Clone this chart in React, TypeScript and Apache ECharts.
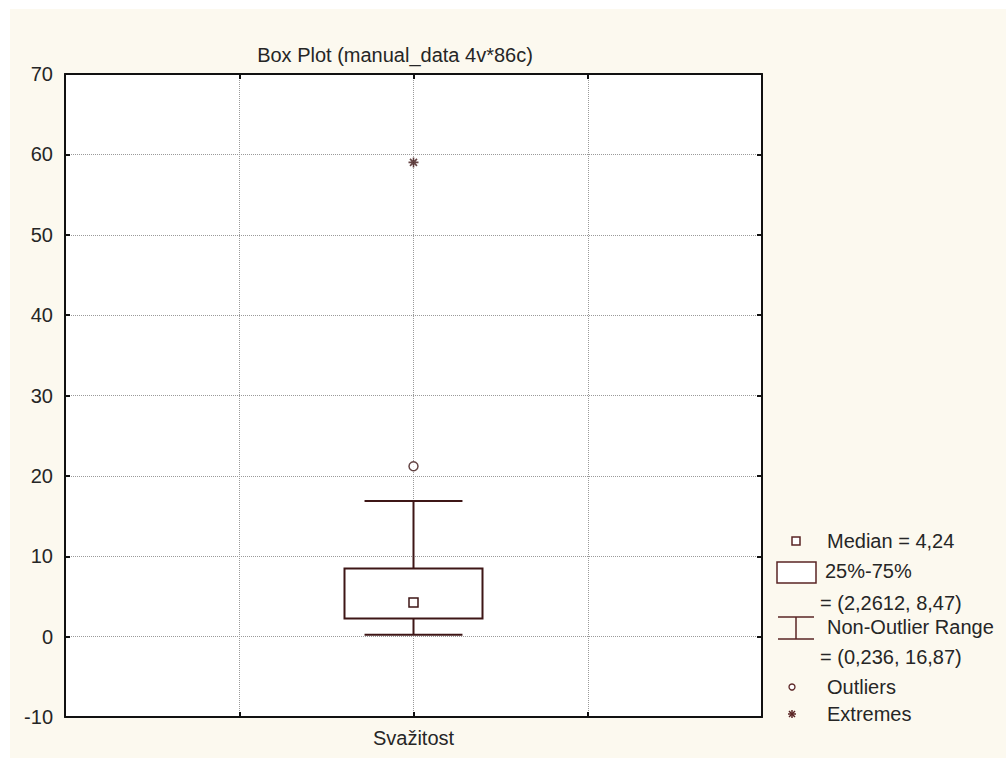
import React, { useEffect, useRef } from "react";
import * as echarts from "echarts";

// Box plot statistics for each variable
const categories = ["Svažitost"];
const medians = [4.24];
const quartile25 = [2.2612];
const quartile75 = [8.47];
const rangeLow = [0.236];
const rangeHigh = [16.87];
const outliers = [21.2];
const extremes = [59.0];
const yTicks = [-10, 0, 10, 20, 30, 40, 50, 60, 70];
const titleText = "Box Plot (manual_data 4v*86c)";

const FONT = '"Liberation Sans", Arial, sans-serif';
const INK = "#262626";
const BOX = "#3e1616";
const LEG = "#5a2424";

const fmt = (v: number) => String(v).replace(".", ",");

// variable i sits at the middle of a 0..4 value axis
const xOf = (i: number) => 2 + i;

export default function App() {
  const ref = useRef<HTMLDivElement>(null);

  useEffect(() => {
    if (!ref.current) return;
    const chart = echarts.init(ref.current, undefined, { renderer: "svg" });

    const boxData = categories.map((_, i) => [
      xOf(i),
      rangeLow[i],
      quartile25[i],
      medians[i],
      quartile75[i],
      rangeHigh[i],
    ]);

    const asterisk =
      "path://M0,5L10,5M5,0L5,10M1.5,1.5L8.5,8.5M8.5,1.5L1.5,8.5";

    const axisLine = { show: true, onZero: false, lineStyle: { color: "#111", width: 2 } };
    const axisTick = {
      show: true,
      inside: true,
      length: 5,
      lineStyle: { color: "#111", width: 2 },
    };
    const grid = { show: true, lineStyle: { type: "dotted", color: "#9a9a9a", width: 1 } };

    const legendLine = (x1: number, y1: number, x2: number, y2: number) => ({
      type: "line",
      shape: { x1, y1, x2, y2 },
      style: { stroke: LEG, lineWidth: 1.5 },
    });
    const legendText = (x: number, y: number, text: string) => ({
      type: "text",
      x,
      y,
      style: {
        text,
        fill: INK,
        font: `20px ${FONT}`,
        textAlign: "left",
        textVerticalAlign: "middle",
      },
    });

    chart.setOption({
      animation: false,
      grid: {
        left: 65,
        right: 244,
        top: 74,
        bottom: 41,
        show: true,
        backgroundColor: "#ffffff",
        borderWidth: 0,
      },
      xAxis: [
        {
          type: "value",
          min: 0,
          max: 4,
          interval: 1,
          position: "bottom",
          axisLine,
          axisTick,
          axisLabel: {
            formatter: (v: number) => categories[v - 2] ?? "",
            fontSize: 20,
            fontFamily: FONT,
            color: INK,
            margin: 11,
          },
          splitLine: grid,
        },
        {
          type: "value",
          min: 0,
          max: 4,
          interval: 1,
          position: "top",
          axisLine,
          axisTick,
          axisLabel: { show: false },
          splitLine: { show: false },
        },
      ],
      yAxis: [
        {
          type: "value",
          min: yTicks[0],
          max: yTicks[yTicks.length - 1],
          interval: yTicks[1] - yTicks[0],
          position: "left",
          axisLine,
          axisTick,
          axisLabel: { fontSize: 20, fontFamily: FONT, color: INK, margin: 12 },
          splitLine: grid,
        },
        {
          type: "value",
          min: yTicks[0],
          max: yTicks[yTicks.length - 1],
          interval: yTicks[1] - yTicks[0],
          position: "right",
          axisLine,
          axisTick,
          axisLabel: { show: false },
          splitLine: { show: false },
        },
      ],
      series: [
        {
          type: "custom",
          xAxisIndex: 0,
          yAxisIndex: 0,
          data: boxData,
          renderItem: (_params: any, api: any) => {
            const x = api.value(0);
            const lo = api.coord([x, api.value(1)]);
            const q1 = api.coord([x, api.value(2)]);
            const med = api.coord([x, api.value(3)]);
            const q3 = api.coord([x, api.value(4)]);
            const hi = api.coord([x, api.value(5)]);
            const unit = api.size([1, 0])[0];
            const boxHalf = unit * 0.396;
            const capHalf = unit * 0.281;
            const cx = q1[0];
            const stroke = { stroke: BOX, lineWidth: 2, fill: "none" };
            return {
              type: "group",
              children: [
                { type: "line", shape: { x1: cx, y1: hi[1], x2: cx, y2: q3[1] }, style: stroke },
                { type: "line", shape: { x1: cx, y1: q1[1], x2: cx, y2: lo[1] }, style: stroke },
                { type: "line", shape: { x1: cx - capHalf, y1: hi[1], x2: cx + capHalf, y2: hi[1] }, style: stroke },
                { type: "line", shape: { x1: cx - capHalf, y1: lo[1], x2: cx + capHalf, y2: lo[1] }, style: stroke },
                {
                  type: "rect",
                  shape: { x: cx - boxHalf, y: q3[1], width: boxHalf * 2, height: q1[1] - q3[1] },
                  style: { stroke: BOX, lineWidth: 2, fill: "#ffffff" },
                },
                {
                  type: "rect",
                  shape: { x: cx - 4.5, y: med[1] - 4.5, width: 9, height: 9 },
                  style: { stroke: BOX, lineWidth: 1.5, fill: "#ffffff" },
                },
              ],
            };
          },
        },
        {
          type: "scatter",
          data: categories.map((_, i) => [xOf(i), outliers[i]]),
          symbol: "circle",
          symbolSize: 9,
          itemStyle: { color: "#ffffff", borderColor: BOX, borderWidth: 1.5 },
        },
        {
          type: "scatter",
          data: categories.map((_, i) => [xOf(i), extremes[i]]),
          symbol: asterisk,
          symbolSize: 10,
          itemStyle: { color: "none", borderColor: BOX, borderWidth: 1.6 },
        },
      ],
      graphic: [
        {
          type: "text",
          x: 395,
          y: 55,
          style: {
            text: titleText,
            fill: INK,
            font: `20px ${FONT}`,
            textAlign: "center",
            textVerticalAlign: "middle",
          },
        },
        // legend
        {
          type: "rect",
          shape: { x: 792, y: 537, width: 8, height: 8 },
          style: { fill: "#fff", stroke: LEG, lineWidth: 1.5 },
        },
        legendText(827, 541, `Median = ${fmt(medians[0])}`),
        {
          type: "rect",
          shape: { x: 777, y: 562, width: 39, height: 21 },
          style: { fill: "#fff", stroke: LEG, lineWidth: 1.5 },
        },
        legendText(825, 571, "25%-75%"),
        legendText(820, 603, `= (${fmt(quartile25[0])}, ${fmt(quartile75[0])})`),
        legendLine(778, 617, 814, 617),
        legendLine(796, 617, 796, 639),
        legendLine(778, 639, 814, 639),
        legendText(827, 627, "Non-Outlier Range"),
        legendText(820, 657, `= (${fmt(rangeLow[0])}, ${fmt(rangeHigh[0])})`),
        {
          type: "circle",
          shape: { cx: 792, cy: 687, r: 3 },
          style: { fill: "#fff", stroke: LEG, lineWidth: 1.3 },
        },
        legendText(827, 687, "Outliers"),
        legendLine(788, 714, 796, 714),
        legendLine(792, 710, 792, 718),
        legendLine(789, 711, 795, 717),
        legendLine(795, 711, 789, 717),
        legendText(827, 714, "Extremes"),
      ],
    });

    return () => chart.dispose();
  }, []);

  return (
    <div
      style={{
        position: "fixed",
        left: 0,
        top: 0,
        width: 1006,
        height: 758,
        background: "#ffffff",
      }}
    >
      <div
        style={{
          position: "absolute",
          left: 10,
          top: 9,
          right: 0,
          bottom: 0,
          background: "#fcf9ef",
        }}
      />
      <div ref={ref} style={{ position: "absolute", left: 0, top: 0, width: 1006, height: 758 }} />
    </div>
  );
}
